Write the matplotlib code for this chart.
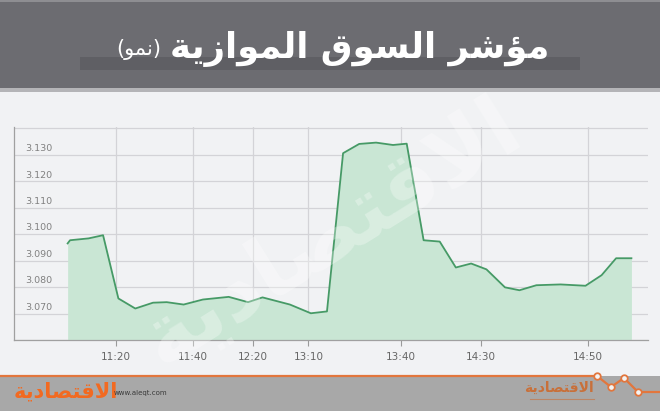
import matplotlib
matplotlib.use("Agg")
import matplotlib.pyplot as plt
import matplotlib.transforms as mtransforms
from matplotlib.patches import Rectangle

# ---- data ----
x_pos = [0, 0.15, 1.3, 2.2, 3.15, 4.2, 5.3, 6.15, 7.2, 8.4, 10, 11.2, 12.1, 13.8,
         15.1, 16.1, 17.1, 18.1, 19.15, 20.2, 21.05, 22.1, 23.1, 24.1, 25.05, 26,
         27.15, 28.05, 29.1, 30.6, 32.15, 33.15, 34.05, 35]
index_vals = [3.0965, 3.0977, 3.0984, 3.0996, 3.0757, 3.0719, 3.0741, 3.0743,
              3.0734, 3.0753, 3.0763, 3.0743, 3.0761, 3.0734, 3.0701, 3.0708,
              3.1306, 3.1341, 3.1346, 3.1337, 3.1342, 3.0977, 3.0972, 3.0874,
              3.0889, 3.0867, 3.0799, 3.0788, 3.0807, 3.0810, 3.0805, 3.0845,
              3.0909, 3.0909]
tick_pos = [3.0, 7.77, 11.48, 14.95, 20.7, 25.67, 32.31]
tick_labels = ["11:20", "11:40", "12:20", "13:10", "13:40", "14:30", "14:50"]
y_labels = [3.070, 3.080, 3.090, 3.100, 3.110, 3.120, 3.130]

TITLE = "مؤشر السوق الموازية"
SUBTITLE = "(نمو)"
BRAND = "الاقتصادية"

# ---- minimal arabic shaping (matplotlib has no RTL layout) ----
FORMS = {
    'ا': ('\uFE8D', '\uFE8E'), 'ؤ': ('\uFE85', '\uFE86'), 'ة': ('\uFE93', '\uFE94'),
    'د': ('\uFEA9', '\uFEAA'), 'ر': ('\uFEAD', '\uFEAE'), 'ز': ('\uFEAF', '\uFEB0'),
    'و': ('\uFEED', '\uFEEE'), 'LA': ('\uFEFB', '\uFEFC'),
    'ت': ('\uFE95', '\uFE96', '\uFE97', '\uFE98'),
    'س': ('\uFEB1', '\uFEB2', '\uFEB3', '\uFEB4'),
    'ش': ('\uFEB5', '\uFEB6', '\uFEB7', '\uFEB8'),
    'ص': ('\uFEB9', '\uFEBA', '\uFEBB', '\uFEBC'),
    'ق': ('\uFED5', '\uFED6', '\uFED7', '\uFED8'),
    'ل': ('\uFEDD', '\uFEDE', '\uFEDF', '\uFEE0'),
    'م': ('\uFEE1', '\uFEE2', '\uFEE3', '\uFEE4'),
    'ن': ('\uFEE5', '\uFEE6', '\uFEE7', '\uFEE8'),
    'ي': ('\uFEF1', '\uFEF2', '\uFEF3', '\uFEF4'),
}


def shape(text):
    toks = []
    i = 0
    while i < len(text):
        if text[i] == 'ل' and i + 1 < len(text) and text[i + 1] == 'ا':
            toks.append('LA')
            i += 2
        else:
            toks.append(text[i])
            i += 1
    out = []
    for k, t in enumerate(toks):
        if t not in FORMS:
            out.append(t)
            continue
        f = FORMS[t]
        prev = k > 0 and toks[k - 1] in FORMS and len(FORMS[toks[k - 1]]) == 4
        nxt = len(f) == 4 and k + 1 < len(toks) and toks[k + 1] in FORMS
        if prev and nxt:
            out.append(f[3])
        elif prev:
            out.append(f[1])
        elif nxt:
            out.append(f[2])
        else:
            out.append(f[0])
    vis = ''.join(reversed(out))
    return vis.translate(str.maketrans('()', ')('))


W, H = 660, 411
fig = plt.figure(figsize=(W / 100, H / 100), dpi=100, facecolor='#f1f2f4')

# background / decoration layer in pixel coords
bg = fig.add_axes([0, 0, 1, 1], zorder=0)
bg.set_xlim(0, W)
bg.set_ylim(H, 0)
bg.axis('off')
bg.add_patch(Rectangle((0, 0), W, 89, color='#6c6c71', lw=0))
bg.add_patch(Rectangle((0, 0), W, 2, color='#8e8e92', lw=0))
bg.add_patch(Rectangle((0, 88), W, 4, color='#b4b4b7', lw=0))
bg.add_patch(Rectangle((80, 57), 500, 13, color='#5f5f64', lw=0))
bg.text(549, 49, shape(TITLE), color='white', fontsize=25.5, fontweight='bold',
        family='DejaVu Sans', ha='right', va='center')
bg.text(161, 50, shape(SUBTITLE), color='white', fontsize=15,
        family='DejaVu Sans', ha='right', va='center')

# footer
bg.add_patch(Rectangle((0, 376), W, H - 376, color='#a8a8a8', lw=0))
bg.plot([0, 597, 611, 624, 638, 660], [376, 376, 387, 378, 392, 392],
        color='#e2763d', lw=1.6, solid_joinstyle='round')
bg.scatter([597, 611, 624, 638], [376, 387, 378, 392], s=22,
           facecolor='#f3f3f3', edgecolor='#e2763d', lw=1.3, zorder=3)
bg.text(14, 391, shape(BRAND), color='#f26a21', fontsize=15, fontweight='bold',
        family='DejaVu Sans', ha='left', va='center')
bg.text(114, 393, "www.aleqt.com", color='#3a3a3a', fontsize=5, ha='left', va='center')
bg.text(594, 388, shape(BRAND), color='#c8703a', fontsize=10, fontweight='bold',
        family='DejaVu Sans', ha='right', va='center')
bg.plot([530, 594], [399, 399], color='#c8703a', lw=0.8, alpha=0.6)

# chart axes
left, right, top, bottom = 14, 648, 127, 340
ax = fig.add_axes([left / W, (H - bottom) / H, (right - left) / W, (bottom - top) / H],
                  zorder=1)
ax.set_facecolor('none')
ax.set_xlim(-3.33, 36.03)
ax.set_ylim(3.060, 3.1405)

ax.fill_between(x_pos, index_vals, 3.060, color='#c9e6d4', lw=0, zorder=2)
ax.plot(x_pos, index_vals, color='#469a66', lw=1.3, zorder=3)

ax.set_yticks([3.060 + 0.01 * k for k in range(9)])
ax.set_yticklabels([])
ax.tick_params(axis='y', length=0)
ax.set_xticks(tick_pos)
ax.set_xticklabels(tick_labels, fontsize=7.5, color='#666666')
ax.tick_params(axis='x', length=4, width=0.8, color='#9a9a9a', pad=4.5)
ax.grid(True, color='#d3d3d7', lw=0.9, zorder=1)
ax.set_axisbelow(True)
for s in ['top', 'right']:
    ax.spines[s].set_visible(False)
for s in ['left', 'bottom']:
    ax.spines[s].set_color('#a0a0a0')
    ax.spines[s].set_linewidth(0.9)

trans = mtransforms.blended_transform_factory(ax.transAxes, ax.transData)
for v in y_labels:
    ax.annotate(f"{v:.3f}", xy=(0.0175, v), xycoords=trans, xytext=(0, 1.2),
                textcoords='offset points', fontsize=6.8, color='#808080',
                ha='left', va='bottom')

# watermark
ax.text(0.5, 0.5, shape(BRAND), transform=ax.transAxes, fontsize=62,
        fontweight='bold', family='DejaVu Sans', color='white', alpha=0.3,
        rotation=32, ha='center', va='center', zorder=4)

fig.savefig("out.png", dpi=100, facecolor=fig.get_facecolor())
